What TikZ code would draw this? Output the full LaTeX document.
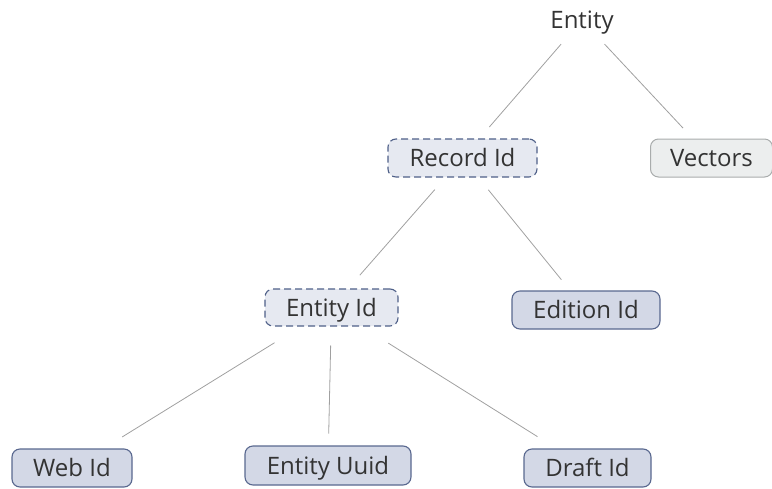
\documentclass[tikz,border=0pt]{standalone}
\usepackage{fontspec}
\setmainfont{Open Sans}
\definecolor{txt}{HTML}{333333}
\definecolor{dfill}{HTML}{E6E9F1}
\definecolor{dline}{HTML}{4F6088}
\definecolor{bfill}{HTML}{D3D8E6}
\definecolor{bline}{HTML}{59688F}
\definecolor{gfill}{HTML}{ECEEEE}
\definecolor{gline}{HTML}{A9ACAC}
\definecolor{edge}{HTML}{A0A0A0}
\tikzset{
  base/.style={font=\fontsize{24}{28}\selectfont, text=txt, inner sep=0pt, text height=17pt, text depth=0pt},
  dbox/.style={base, draw=dline, fill=dfill, dash pattern=on 7pt off 4pt, rounded corners=8pt, line width=1.1pt},
  bbox/.style={base, draw=bline, fill=bfill, rounded corners=8pt, line width=1.1pt},
  gbox/.style={base, draw=gline, fill=gfill, rounded corners=8pt, line width=1pt},
  conn/.style={draw=edge, line width=0.8pt},
}
\begin{document}
\begin{tikzpicture}[x=1pt,y=-1pt]
\useasboundingbox (0,0) rectangle (772,488);
\node[base] (entity) at (582,20) {Entity};
\node[dbox, minimum width=149pt, minimum height=38pt] (record) at (462.5,158) {Record Id};
\node[gbox, minimum width=122pt, minimum height=38pt, anchor=west] (vectors) at (650,158) {Vectors};
\node[dbox, minimum width=133pt, minimum height=37pt] (entityid) at (331.5,307.5) {Entity Id};
\node[bbox, minimum width=148pt, minimum height=38pt] (edition) at (586,310) {Edition Id};
\node[bbox, minimum width=120pt, minimum height=38pt] (web) at (72,468) {Web Id};
\node[bbox, minimum width=166pt, minimum height=39pt] (uuid) at (328,465.5) {Entity Uuid};
\node[bbox, minimum width=127pt, minimum height=38pt] (draft) at (587.5,468) {Draft Id};
\coordinate (vc) at (711,158);
\draw[conn, shorten <=32pt, shorten >=41pt] (entity.center) -- (record.center);
\draw[conn, shorten <=33pt, shorten >=41pt] (entity.center) -- (vc);
\draw[conn, shorten <=42pt, shorten >=43pt] (record.center) -- (entityid.center);
\draw[conn, shorten <=41pt, shorten >=39pt] (record.center) -- (edition.center);
\draw[conn, shorten <=67pt, shorten >=59pt] (entityid.center) -- (web.center);
\draw[conn, shorten <=38pt, shorten >=32pt] (entityid.center) -- (uuid.center);
\draw[conn, shorten <=67pt, shorten >=59pt] (entityid.center) -- (draft.center);
\end{tikzpicture}
\end{document}
